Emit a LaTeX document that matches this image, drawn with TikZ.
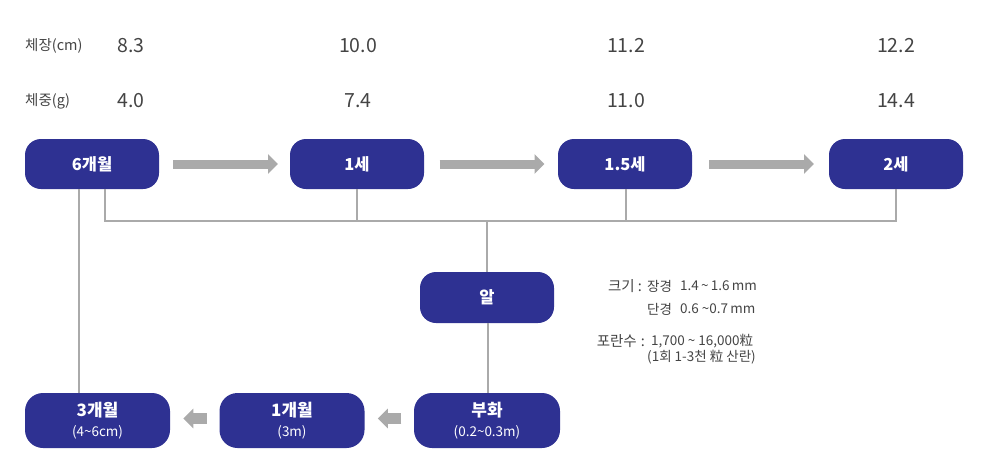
\documentclass[tikz,border=0pt]{standalone}
\usepackage{fontspec}
\setmainfont{Noto Sans CJK KR}
\usetikzlibrary{calc,arrows.meta}
\definecolor{boxblue}{HTML}{2E3192}
\definecolor{lgray}{HTML}{AAAAAA}
\definecolor{tgray}{HTML}{444444}
\newcommand\tld{\char`\~}
\tikzset{
  stage/.style={fill=boxblue, rounded corners=16pt, minimum width=134pt, minimum height=50pt, inner sep=0pt, text=white, font=\bfseries\fontsize{16.5}{18}\selectfont},
  lowstage/.style={fill=boxblue, rounded corners=18pt, minimum width=145pt, minimum height=55pt, inner sep=0pt},
  lowtitle/.style={text=white, font=\bfseries\fontsize{17}{18}\selectfont, inner sep=0pt},
  lowsub/.style={text=white, font=\fontsize{13.5}{15}\selectfont, inner sep=0pt},
  conn/.style={draw=lgray, line width=1.6pt},
  bigarrow/.style={draw=lgray, line width=9pt, -{Triangle[length=10pt,width=19pt]}},
  smallarrow/.style={draw=lgray, line width=11pt, -{Triangle[length=10pt,width=19pt]}},
  rowlabel/.style={text=tgray, font=\fontsize{14.5}{16}\selectfont, anchor=west, inner sep=0pt},
  value/.style={text=tgray, font=\fontsize{19.5}{21}\selectfont, inner sep=0pt},
  note/.style={text=tgray, font=\fontsize{13.5}{15}\selectfont, inner sep=0pt},
  notelab/.style={text=tgray, font=\fontsize{14.5}{16}\selectfont, inner sep=0pt, anchor=east},
}
\begin{document}
\begin{tikzpicture}[x=1pt,y=-1pt]
\useasboundingbox (0,0) rectangle (988,474);
% header rows
\node[rowlabel] (lenlab) at (25,46) {체장(cm)};
\node[rowlabel] (wlab) at (25,101) {체중(g)};
\node[value] (l1) at (131,46) {8.3};
\node[value] (l2) at (358,46) {10.0};
\node[value] (l3) at (626,46) {11.2};
\node[value] (l4) at (896,46) {12.2};
\node[value] (w1) at (131,101) {4.0};
\node[value] (w2) at (358,101) {7.4};
\node[value] (w3) at (626,101) {11.0};
\node[value] (w4) at (896,101) {14.4};
% top stages
\node[stage] (g6) at (92,164) {6개월};
\node[stage] (a1) at (357,164) {1세};
\node[stage] (a15) at (625,164) {1.5세};
\node[stage] (a2) at (896,164) {2세};
% egg
\node[stage, minimum height=51pt] (egg) at (487,297.5) {알};
% bottom stages
\node[lowstage] (m3) at (97.5,420.5) {};
\node[lowstage] (m1) at (292,420.5) {};
\node[lowstage, minimum width=146pt] (hatch) at (487,420.5) {};
\node[lowtitle] (m3t) at ([yshift=10pt]m3.center) {3개월};
\node[lowsub] (m3s) at ([yshift=-12pt]m3.center) {(4\tld6cm)};
\node[lowtitle] (m1t) at ([yshift=10pt]m1.center) {1개월};
\node[lowsub] (m1s) at ([yshift=-12pt]m1.center) {(3m)};
\node[lowtitle] (ht) at ([yshift=10pt]hatch.center) {부화};
\node[lowsub] (hs) at ([yshift=-12pt]hatch.center) {(0.2\tld0.3m)};
% connectors
\coordinate (bus) at (487,221);
\draw[conn] ([xshift=13pt]g6.south) |- (bus) -| (a2.south);
\draw[conn] (a1.south) -- (a1.south |- bus);
\draw[conn] ([xshift=1pt]a15.south) -- ([xshift=1pt]a15.south |- bus);
\draw[conn] (egg.north) -- (egg.north |- bus);
\draw[conn] ([xshift=1pt]egg.south) -- ([xshift=1pt]hatch.north);
\draw[conn] ([xshift=-13pt]g6.south) -- ([xshift=-13pt]g6.south |- m3.north);
% big arrows
\coordinate (c1) at ($(g6.east)!0.5!(a1.west)$);
\coordinate (c2) at ($(a1.east)!0.5!(a15.west)$);
\coordinate (c3) at ($(a15.east)!0.5!(a2.west)$);
\draw[bigarrow] ([xshift=-51.5pt]c1) -- ([xshift=53.5pt]c1);
\draw[bigarrow] ([xshift=-51.5pt]c2) -- ([xshift=53.5pt]c2);
\draw[bigarrow] ([xshift=-51.5pt]c3) -- ([xshift=53.5pt]c3);
% small arrows
\coordinate (s1) at ($(m3.east)!0.5!(m1.west)$);
\coordinate (s2) at ($(m1.east)!0.5!(hatch.west)$);
\draw[smallarrow] ([xshift=12pt,yshift=2pt]s1) -- ([xshift=-11.5pt,yshift=2pt]s1);
\draw[smallarrow] ([xshift=12pt,yshift=2pt]s2) -- ([xshift=-11.5pt,yshift=2pt]s2);
% egg notes
\node[notelab] (n1) at (642,286) {크기\hspace{3pt}:};
\node[note, anchor=west] (n2) at (647,286) {장경};
\node[note, anchor=west] (n2v) at (680,286) {1.4\,\tld\,1.6\,mm};
\node[note, anchor=west] (n3) at (647,309) {단경};
\node[note, anchor=west] (n3v) at (680,309) {0.6 \tld0.7\,mm};
\node[notelab] (n4) at (645,341) {포란수\hspace{4pt}:};
\node[note, anchor=west] (n5) at (651,341) {1,700 \tld\ 16,000粒};
\node[note, anchor=west] (n6) at (647,357) {(1회 1-3천 粒 산란)};
\end{tikzpicture}
\end{document}
